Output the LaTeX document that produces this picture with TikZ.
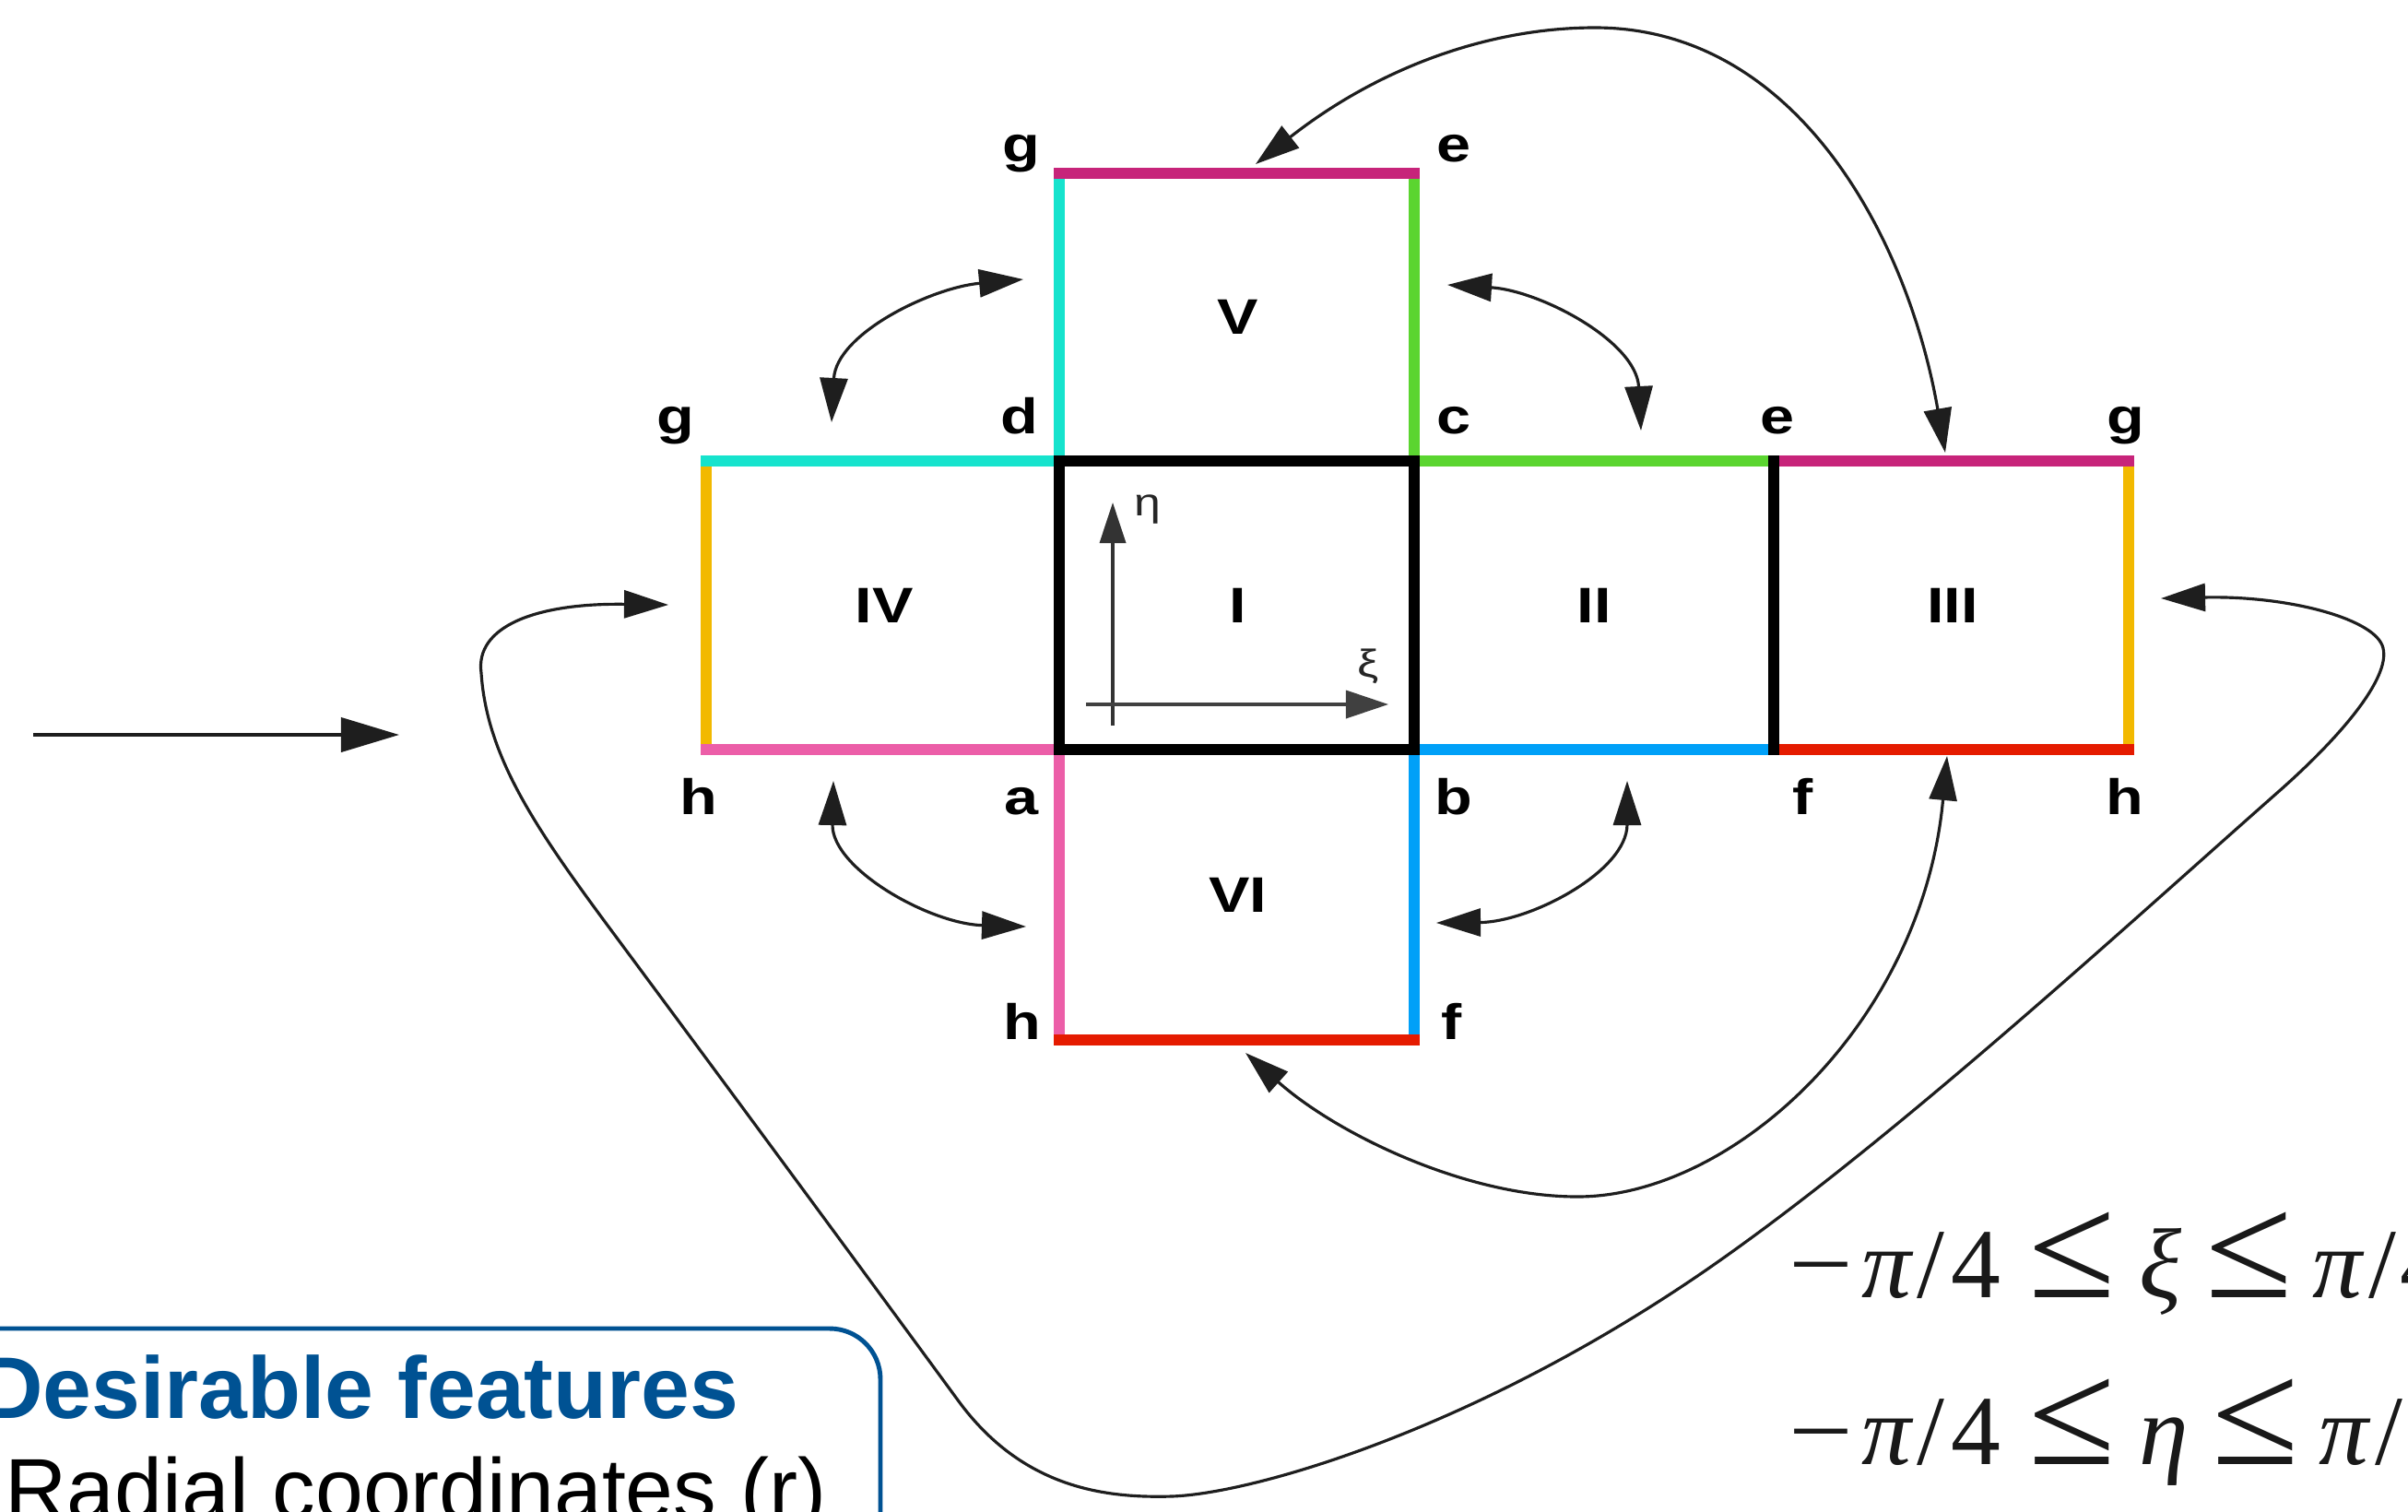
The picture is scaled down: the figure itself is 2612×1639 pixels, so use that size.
\documentclass[tikz,border=0pt]{standalone}
\usepackage{fontspec}
\usepackage{graphicx}
\setmainfont{Liberation Sans}
\newfontfamily\diagfont[FakeStretch=1.23,UprightFont={* Bold}]{Liberation Sans}
\newfontfamily\axfont[FakeStretch=1.23]{Liberation Sans}
\newfontfamily\frmfont{Liberation Serif}
\usetikzlibrary{arrows.meta}
\definecolor{cyanE}{RGB}{22,227,205}
\definecolor{magE}{RGB}{199,36,122}
\definecolor{grnE}{RGB}{91,213,48}
\definecolor{yelE}{RGB}{242,185,0}
\definecolor{pnkE}{RGB}{236,94,168}
\definecolor{bluE}{RGB}{0,160,248}
\definecolor{redE}{RGB}{229,27,0}
\definecolor{slideblue}{RGB}{0,82,147}
\definecolor{curvecol}{RGB}{30,30,30}
\newcommand\myleq{\scalebox{1.6}[1.5]{≤}}
\newcommand\myminus{\scalebox{1.15}[1]{−}}
\tikzset{
  edge/.style={line width=3.5pt, line cap=rect},
  blackedge/.style={line width=3.5pt, line cap=rect, line join=miter, draw=black},
  curve/.style={line width=0.9pt, draw=curvecol},
  reg/.style={font=\diagfont\fontsize{15.4}{18}\selectfont, inner sep=0pt, anchor=center},
  lab/.style={font=\diagfont\fontsize{15.4}{18}\selectfont, inner sep=0pt, anchor=base},
  axlab/.style={font=\axfont\fontsize{12}{14}\selectfont, inner sep=0pt, text=black!85},
  frm/.style={font=\frmfont\fontsize{30.6}{34}\selectfont, inner sep=0pt, anchor=base west, text=black!90},
}
\begin{document}
\begin{tikzpicture}[x=0.01cm, y=-0.01cm, >={Triangle[length=0.48cm,width=0.3cm]}]
\useasboundingbox (0,0) rectangle (2612,1639);
\clip (0,0) rectangle (2612,1639);
\fill[white] (0,0) rectangle (2612,1639);

% corner coordinates
\coordinate (gV) at (1149,188);
\coordinate (eV) at (1534,188);
\coordinate (gL) at (766,500);
\coordinate (d)  at (1149,500);
\coordinate (c)  at (1534,500);
\coordinate (eR) at (1924,500);
\coordinate (gR) at (2309,500);
\coordinate (hL) at (766,813);
\coordinate (a)  at (1149,813);
\coordinate (b)  at (1534,813);
\coordinate (f)  at (1924,813);
\coordinate (hR) at (2309,813);
\coordinate (hB) at (1149,1128);
\coordinate (fB) at (1534,1128);

% vertical coloured edges
\draw[edge, cyanE] (gV) -- (d);
\draw[edge, grnE]  (eV) -- (c);
\draw[edge, yelE]  (gL) -- (hL);
\draw[edge, yelE]  (gR) -- (hR);
\draw[edge, pnkE]  (a) -- (hB);
\draw[edge, bluE]  (b) -- (fB);
% horizontal coloured edges
\draw[edge, magE]  (gV) -- (eV);
\draw[edge, magE]  (eR) -- (gR);
\draw[edge, cyanE] (gL) -- (d);
\draw[edge, grnE]  (c) -- (eR);
\draw[edge, pnkE]  (hL) -- (a);
\draw[edge, bluE]  (b) -- (f);
\draw[edge, redE]  (f) -- (hR);
\draw[edge, redE]  (hB) -- (fB);
% black edges
\draw[blackedge] (d) rectangle (b);
\draw[blackedge] (eR) -- (f);

% region labels
\node[reg] (rV)   at (1343,344) {V};
\node[reg] (rIV)  at (959,657) {IV};
\node[reg] (rI)   at (1343,657) {I};
\node[reg] (rII)  at (1729,657) {II};
\node[reg] (rIII) at (2118,657) {III};
\node[reg] (rVI)  at (1343,971) {VI};

% corner labels
\node[lab] (lg1) at (1108,175) {g};
\node[lab] (le1) at (1577,175) {e};
\node[lab] (lg2) at (733,470) {g};
\node[lab] (ld)  at (1106,470) {d};
\node[lab] (lc)  at (1577,470) {c};
\node[lab] (le2) at (1928,470) {e};
\node[lab] (lg3) at (2306,470) {g};
\node[lab] (lh1) at (758,883) {h};
\node[lab] (la)  at (1108,883) {a};
\node[lab] (lb)  at (1577,883) {b};
\node[lab] (lf1) at (1956,883) {f};
\node[lab] (lh2) at (2305,883) {h};
\node[lab] (lh3) at (1109,1127) {h};
\node[lab] (lf2) at (1575,1127) {f};

% axes in I
\coordinate (ax0) at (1207,787);
\coordinate (ax1) at (1207,545);
\coordinate (ay0) at (1178,764);
\coordinate (ay1) at (1506,764);
\draw[line width=1pt, draw=black!80, -{Triangle[length=0.44cm,width=0.28cm]}] (ax0) -- (ax1);
\draw[line width=1pt, draw=black!75, -{Triangle[length=0.46cm,width=0.3cm]}] (ay0) -- (ay1);
\node[axlab] (eta) at (1245,553) {η};
\node[axlab] (xi)  at (1484,723) {ξ};

% input arrow
\coordinate (in0) at (36,797);
\coordinate (in1) at (433,797);
\draw[line width=1.1pt, draw=curvecol, -{Triangle[length=0.63cm,width=0.37cm]}] (in0) -- (in1);

% small double arrows round the corners
\coordinate (tl1) at (1110,303);
\coordinate (tl2) at (902,458);
\draw[curve,<->] (tl1) .. controls (1010,312) and (907,362) .. (tl2);
\coordinate (tr1) at (1570,309);
\coordinate (tr2) at (1780,467);
\draw[curve,<->] (tr1) .. controls (1670,315) and (1775,370) .. (tr2);
\coordinate (bl1) at (904,847);
\coordinate (bl2) at (1113,1005);
\draw[curve,<->] (bl1) .. controls (902,942) and (1008,1002) .. (bl2);
\coordinate (br1) at (1765,847);
\coordinate (br2) at (1558,1001);
\draw[curve,<->] (br1) .. controls (1765,945) and (1660,1000) .. (br2);

% big top arc V <-> III
\coordinate (tv) at (1362,178);
\coordinate (t3) at (2110,491);
\draw[curve,<->] (tv) .. controls (1500,70) and (1620,30) .. (1730,30)
                      .. controls (1950,30) and (2070,260) .. (t3);

% bottom arc VI <-> III
\coordinate (t6) at (1351,1142);
\coordinate (t3b) at (2112,820);
\draw[curve,<->] (t6) .. controls (1450,1230) and (1590,1298) .. (1711,1298)
                      .. controls (1880,1298) and (2085,1110) .. (t3b);

% big loop IV <-> III
\coordinate (t4) at (725,656);
\coordinate (t3r) at (2344,649);
\draw[curve,<->] (t4) .. controls (580,654) and (515,680) .. (522,730)
                      .. controls (528,820) and (580,897) .. (660,1005)
                      .. controls (790,1180) and (930,1370) .. (1040,1520)
                      .. controls (1110,1615) and (1200,1625) .. (1271,1623)
                      .. controls (1360,1620) and (1600,1550) .. (1850,1378)
                      .. controls (2050,1240) and (2300,1010) .. (2470,860)
                      .. controls (2545,794) and (2596,730) .. (2584,700)
                      .. controls (2572,670) and (2480,646) .. (t3r);

% formulas
\node[frm] (f1) at (1940,1407) {\myminus\kern0.08em\textit{π}\kern0.04em/\kern0.06em4\hspace{0.28em}\myleq\hspace{0.24em}\textit{ξ}\hspace{0.24em}\myleq\hspace{0.2em}\textit{π}\kern0.04em/\kern0.04em4};
\node[frm] (f2) at (1940,1588) {\myminus\kern0.08em\textit{π}\kern0.04em/\kern0.06em4\hspace{0.28em}\myleq\hspace{0.24em}\textit{η}\hspace{0.24em}\myleq\hspace{0.2em}\textit{π}\kern0.04em/\kern0.04em4};

% slide box
\coordinate (bx0) at (-40,1441);
\coordinate (bx1) at (955,1441);
\coordinate (bx2) at (955,1720);
\draw[slideblue, line width=1.4pt, rounded corners=0.55cm] (bx0) -- (bx1) -- (bx2);
\node[anchor=base east, inner sep=0pt, text=slideblue, font=\fontsize{27}{30}\selectfont\bfseries] (hd) at (802,1538) {Desirable features};
\node[anchor=base west, inner sep=0pt, font=\fontsize{26.5}{30}\selectfont] (bd) at (5,1647) {Radial coordinates (r)};
\end{tikzpicture}
\end{document}
